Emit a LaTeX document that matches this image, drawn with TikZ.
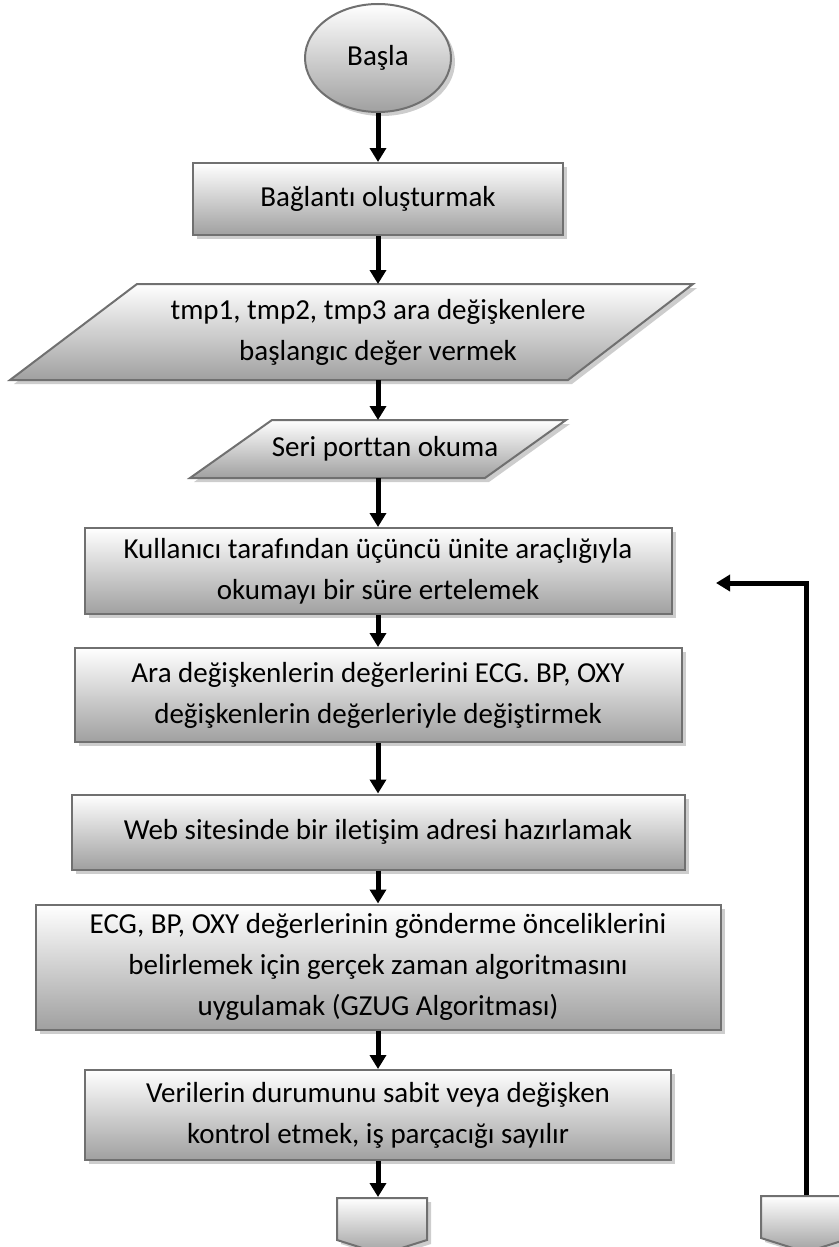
\documentclass[tikz,border=0pt]{standalone}
\usepackage{fontspec}
\setmainfont{Carlito}[Ligatures=NoCommon]
\usetikzlibrary{shapes.geometric,shapes.symbols,shadows,arrows.meta}

\definecolor{edgegray}{RGB}{112,112,112}
\definecolor{darkfill}{RGB}{160,160,160}
\definecolor{shadowgray}{RGB}{205,205,205}
\newcommand\flowfont{\fontsize{29}{41}\selectfont}

\begin{document}
\begin{tikzpicture}[x=1pt,y=-1pt,
  shaded/.style={draw=edgegray, line width=2pt, top color=white, bottom color=darkfill,
    drop shadow={shadow xshift=4pt, shadow yshift=-4pt, fill=shadowgray, opacity=1}},
  stepbox/.style 2 args={shaded, rectangle, minimum width=#1, minimum height=#2,
    inner sep=0pt, align=center, font=\flowfont},
  offpage/.style={shaded, signal, signal to=south, signal from=nowhere,
    signal pointer angle=145, minimum width=90, minimum height=42, inner sep=0pt},
  flow/.style={line width=5pt, -{Triangle[width=16pt,length=14pt]}},
  label/.style={font=\flowfont, align=center, inner sep=0pt}
]
\useasboundingbox (0,0) rectangle (838,1247);

% start terminal
\node[shaded, ellipse, minimum width=146, minimum height=108, font=\flowfont] (start) at (378,58) {Başla};

% process step
\node[stepbox={370}{72}] (conn) at (378,199) {Bağlantı oluşturmak};

% input blocks (parallelograms) with their text and attachment points
\path[shaded, line join=miter] (137,284) -- (693,284) -- (568,380) -- (10,380) -- cycle;
\node[label] (init) at (378,332) {tmp1, tmp2, tmp3 ara değişkenlere\\başlangıc değer vermek};
\coordinate (initN) at (378,284);
\coordinate (initS) at (378,380);

\path[shaded, line join=miter] (272,420) -- (566,420) -- (485,478) -- (190,478) -- cycle;
\node[label] (serial) at (385,449) {Seri porttan okuma};
\coordinate (serialN) at (378,420);
\coordinate (serialS) at (378,478);

% remaining process steps
\node[stepbox={587}{86}] (delay) at (378,571) {Kullanıcı tarafından üçüncü ünite araçlığıyla\\okumayı bir süre ertelemek};

\node[stepbox={607}{94}] (swap) at (378,695) {Ara değişkenlerin değerlerini ECG. BP, OXY\\değişkenlerin değerleriyle değiştirmek};

\node[stepbox={613}{75}] (web) at (378,832) {Web sitesinde bir iletişim adresi hazırlamak};

\node[stepbox={685}{125}] (gzug) at (378,967) {ECG, BP, OXY değerlerinin gönderme önceliklerini\\belirlemek için gerçek zaman algoritmasını\\uygulamak (GZUG Algoritması)};

\node[stepbox={586}{90}] (check) at (378,1115) {Verilerin durumunu sabit veya değişken\\kontrol etmek, iş parçacığı sayılır};

% off-page connectors
\node[offpage] (outA) at (382,1219) {};
\node[offpage] (outB) at (806,1217) {};

% main flow
\draw[flow] (start.south) -- (conn.north);
\draw[flow] (conn.south) -- (initN);
\draw[flow] (initS) -- (serialN);
\draw[flow] (serialS) -- (delay.north);
\draw[flow] (delay.south) -- (swap.north);
\draw[flow] (swap.south) -- (web.north);
\draw[flow] (web.south) -- (gzug.north);
\draw[flow] (gzug.south) -- (check.north);
\draw[flow] (check.south) -- (check.south |- outA.north);

% loop back into the delay step
\coordinate (backtip) at (716,583);
\draw[flow, line join=miter] (outB.north) |- (backtip);
\end{tikzpicture}
\end{document}
